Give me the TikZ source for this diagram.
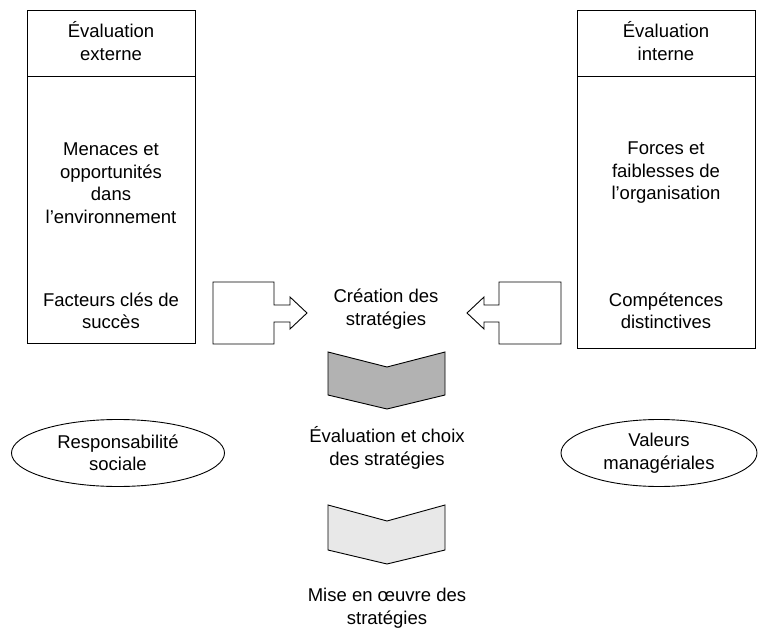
\documentclass[tikz,border=0pt]{standalone}
\usepackage{fontspec}
\setmainfont{Liberation Sans}
\usetikzlibrary{shapes.geometric}
\begin{document}
\begin{tikzpicture}[x=1pt,y=-1pt,line width=0.9pt,
  lbl/.style={align=center,font=\fontsize{18.5}{22.5}\selectfont,inner sep=0pt},
  panel/.style={draw,inner sep=0pt,outer sep=0pt,anchor=north west},
  blockarrow/.style={draw,fill=white,line join=miter},
  chevdark/.style={draw,fill=black!30,line join=miter},
  chevlight/.style={draw,fill=black!9,line join=miter},
  oval/.style={draw,ellipse,inner sep=0pt,align=center,font=\fontsize{18.5}{22.5}\selectfont}]
\useasboundingbox (0,0) rectangle (758,634);

% external assessment column
\node[panel,minimum width=168pt,minimum height=333pt] (extbox) at (27,10) {};
\draw (27,76) -- (195,76);
\node[lbl] (exttitle) at (111,41) {Évaluation\\externe};
\node[lbl] (menaces) at (111,183) {Menaces et\\opportunités\\dans\\l’environnement};
\node[lbl] (facteurs) at (111,311) {Facteurs clés de\\succès};

% internal assessment column
\node[panel,minimum width=178pt,minimum height=338pt] (intbox) at (577,10) {};
\draw (577,76) -- (755,76);
\node[lbl] (inttitle) at (666,41) {Évaluation\\interne};
\node[lbl] (forces) at (666,173) {Forces et\\faiblesses de\\l’organisation};
\node[lbl] (competences) at (666,311) {Compétences\\distinctives};

% block arrows feeding strategy creation
\draw[blockarrow] (213,282) -- (274,282) -- (274,305) -- (290,305) -- (290,297)
  -- (307,313) -- (290,329) -- (290,322) -- (274,322) -- (274,344) -- (213,344) -- cycle;
\draw[blockarrow] (561,282) -- (499,282) -- (499,305) -- (484,305) -- (484,297)
  -- (467,313) -- (484,329) -- (484,322) -- (499,322) -- (499,344) -- (561,344) -- cycle;

\node[lbl] (creation) at (386,309) {Création des\\stratégies};

% chevrons along the central flow
\draw[chevdark] (328,352) -- (387,367) -- (445,352) -- (445,395) -- (387,409) -- (328,395) -- cycle;
\node[lbl] (choix) at (387,448) {Évaluation et choix\\des stratégies};
\draw[chevlight] (328,505) -- (387,521) -- (445,505) -- (445,550) -- (387,564) -- (328,550) -- cycle;
\node[lbl] (miseenoeuvre) at (387,608) {Mise en œuvre des\\stratégies};

% side influences
\node[oval,minimum width=213pt,minimum height=67pt] (social) at (118,453) {Responsabilité\\sociale};
\node[oval,minimum width=196pt,minimum height=67pt] (valeurs) at (659,453) {Valeurs\\managériales};
\end{tikzpicture}
\end{document}
